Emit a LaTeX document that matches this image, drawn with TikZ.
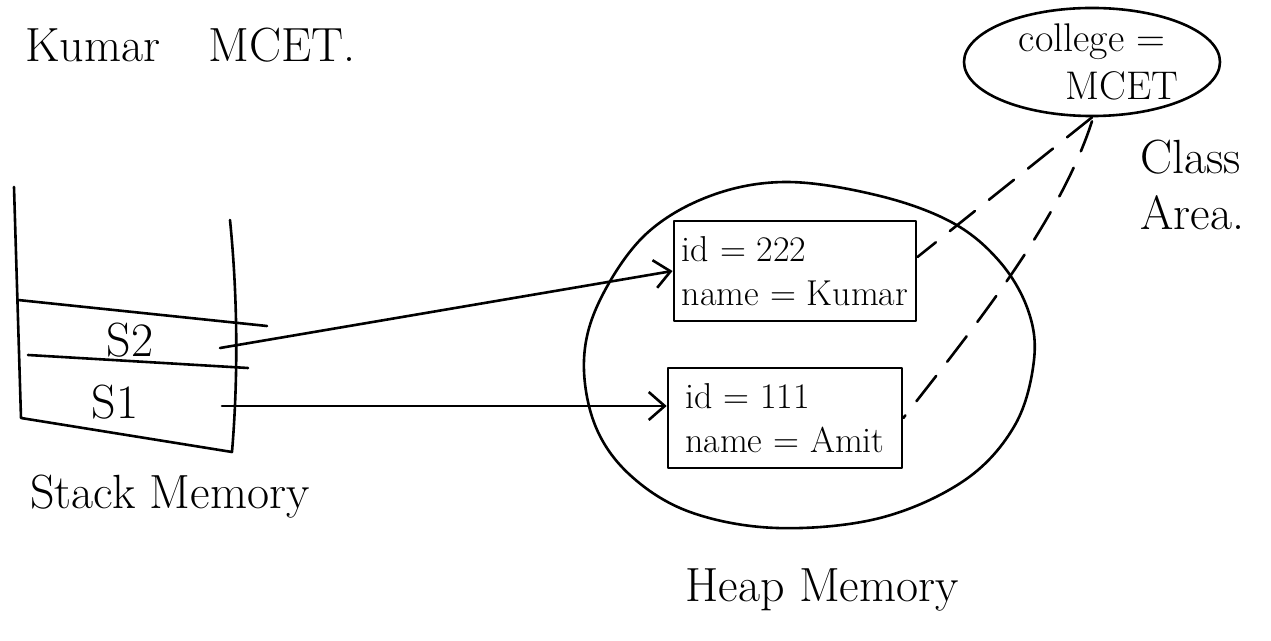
\documentclass[tikz,border=0pt]{standalone}
\usetikzlibrary{arrows.meta,shapes.geometric,calc}
\begin{document}
\begin{tikzpicture}[x=0.5pt,y=-0.5pt,
  ink/.style={line width=1.3pt,line cap=round,line join=round},
  ptr/.style={ink,-{Straight Barb[length=8pt,width=14pt,line width=1.3pt]}},
  dashln/.style={ink,dash pattern=on 16pt off 9pt},
  objbox/.style={draw,ink,rectangle,minimum width=117pt,minimum height=50pt,align=left,font=\fontsize{18}{22}\selectfont,inner sep=4pt},
  lbl/.style={font=\fontsize{24}{28}\selectfont,inner sep=0pt}]
\useasboundingbox (0,0) rectangle (1271,641);

% title
\node[lbl,anchor=west] (title) at (25,45) {Kumar\quad MCET.};

% stack memory
\draw[ink] (14,187) -- (21,418) -- (232,452) .. controls (238,380) and (238,300) .. (230,220);
\draw[ink] (18,300) -- (267,326);
\draw[ink] (28,355) -- (248,368);
\node[lbl] (s2) at (130,340) {S2};
\node[lbl] (s1) at (115,402) {S1};
\coordinate (s2out) at (220,348);
\coordinate (s1out) at (222,406);
\node[lbl,anchor=west] (stacklbl) at (30,497) {Stack Memory};

% heap memory
\draw[ink] plot[smooth cycle,tension=0.6] coordinates {(787,182) (880,196) (953,223) (1000,262) (1028,310) (1034,360) (1015,425) (965,480) (880,518) (777,528) (690,512) (630,475) (595,425) (584,360) (600,300) (645,235) (710,196)};
\node[objbox] (box1) at (795,271) {id = 222\\name = Kumar};
\node[objbox] (box2) at (785,418) {id = 111\\name = Amit};
\node[lbl] (heaplbl) at (822,590) {Heap Memory};

% pointers
\draw[ptr] (s2out) -- (box1.west);
\draw[ptr] (s1out) -- (s1out -| box2.west);

% class area
\node[draw,ink,ellipse,minimum width=128pt,minimum height=52pt,inner sep=0pt,align=center,font=\fontsize{20}{24}\selectfont] (cls) at (1092,62) {college =\\\hspace*{1.5em}MCET};
\node[lbl,align=left,anchor=north west] (clslbl) at (1140,140) {Class\\Area.};

% static reference links
\draw[dashln] (cls.south) -- ($(box1.east)+(0,-14)$);
\draw[dashln] ($(cls.south)+(0,4)$) .. controls (1060,220) and (980,320) .. (box2.east);
\end{tikzpicture}
\end{document}
